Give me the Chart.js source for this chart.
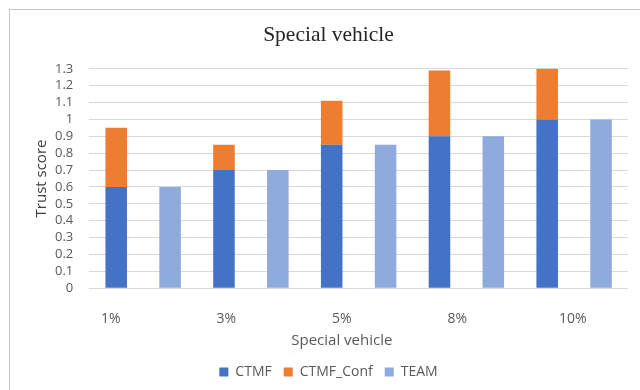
<!DOCTYPE html>
<html>
<head>
<meta charset="utf-8">
<script src="https://cdn.jsdelivr.net/npm/chart.js@4/dist/chart.umd.min.js"></script>
<style>
  html, body { margin: 0; padding: 0; background: #ffffff; width: 640px; height: 390px; overflow: hidden; }
  #frame { position: absolute; left: 9px; top: 9px; width: 640px; height: 400px; border: 1px solid #c6c6c6; box-sizing: border-box; }
  #wrap { position: absolute; left: 10px; top: 10px; width: 630px; height: 380px; }
</style>
</head>
<body>
<div id="frame"></div>
<div id="wrap"><canvas id="chart" width="630" height="380"></canvas></div>
<script>
// Share of special vehicles
const categories = ['1%', '3%', '5%', '8%', '10%'];
// Trust scores per method
const ctmf = [0.6, 0.7, 0.85, 0.9, 1.0];
const ctmfConf = [0.35, 0.15, 0.26, 0.39, 0.30]; // confidence gain stacked on CTMF
const team = [0.6, 0.7, 0.85, 0.9, 1.0];
const yTicks = [0, 0.1, 0.2, 0.3, 0.4, 0.5, 0.6, 0.7, 0.8, 0.9, 1, 1.1, 1.2, 1.3];
const xTitle = 'Special vehicle';

const tickColor = '#595959';
const gridColor = '#d9d9d9';

// Draws the x axis title centred under the span of the category labels
const xTitlePlugin = {
  id: 'xTitle',
  afterDraw(chart) {
    const s = chart.scales.xLabels;
    const n = s.ticks.length;
    const cx = (s.getPixelForTick(0) + s.getPixelForTick(n - 1)) / 2;
    const ctx = chart.ctx;
    ctx.save();
    ctx.font = '15px "Open Sans", sans-serif';
    ctx.fillStyle = tickColor;
    ctx.textAlign = 'center';
    ctx.textBaseline = 'middle';
    ctx.fillText(xTitle, cx, s.bottom - 12);
    ctx.restore();
  }
};

new Chart(document.getElementById('chart'), {
  type: 'bar',
  data: {
    labels: categories,
    datasets: [
      { label: 'CTMF', data: ctmf, backgroundColor: '#4472c4', stack: 'ctmf' },
      { label: 'CTMF_Conf', data: ctmfConf, backgroundColor: '#ed7d31', stack: 'ctmf' },
      { label: 'TEAM', data: team, backgroundColor: '#8faadc', stack: 'team' }
    ]
  },
  plugins: [xTitlePlugin],
  options: {
    responsive: false,
    animation: false,
    devicePixelRatio: 1,
    datasets: { bar: { barPercentage: 0.4, categoryPercentage: 1.0 } },
    layout: { padding: { top: 12, left: 19, right: 12, bottom: 1 } },
    plugins: {
      title: {
        display: true,
        text: 'Special vehicle',
        color: '#262626',
        font: { family: '"Liberation Serif", "Times New Roman", serif', size: 21.5, weight: 'normal' },
        padding: { top: 0, bottom: 21 }
      },
      legend: {
        position: 'bottom',
        labels: {
          boxWidth: 9, boxHeight: 9, padding: 12,
          color: tickColor,
          font: { family: '"Open Sans", sans-serif', size: 14 }
        }
      },
      tooltip: { enabled: false }
    },
    scales: {
      x: {
        stacked: true,
        display: false
      },
      xLabels: {
        type: 'linear',
        position: 'bottom',
        bounds: 'data',
        offset: false,
        min: -0.186,
        max: 4.477,
        afterBuildTicks: (scale) => { scale.ticks = categories.map((c, i) => ({ value: i })); },
        grid: { display: false, drawTicks: true, tickLength: -3, offset: false },
        border: { display: false },
        ticks: {
          padding: 25.5,
          autoSkip: false,
          maxRotation: 0,
          color: tickColor,
          font: { family: '"Open Sans", sans-serif', size: 14 },
          callback: (v) => categories[v]
        }
      },
      y: {
        stacked: true,
        min: 0,
        max: 1.3,
        afterBuildTicks: (scale) => { scale.ticks = yTicks.map(v => ({ value: v })); },
        grid: { color: gridColor, lineWidth: 1, drawTicks: true, tickLength: 14, tickColor: 'rgba(0,0,0,0)' },
        border: { display: false },
        ticks: {
          padding: 2,
          autoSkip: false,
          color: tickColor,
          font: { family: '"Open Sans", sans-serif', size: 13, lineHeight: 1 },
          callback: (v) => String(Number(v.toFixed(2)))
        },
        title: {
          display: true,
          text: 'Trust score',
          color: '#404040',
          font: { family: '"Open Sans", sans-serif', size: 15 },
          padding: { top: 4, bottom: 2 }
        }
      }
    }
  }
});
</script>
</body>
</html>
